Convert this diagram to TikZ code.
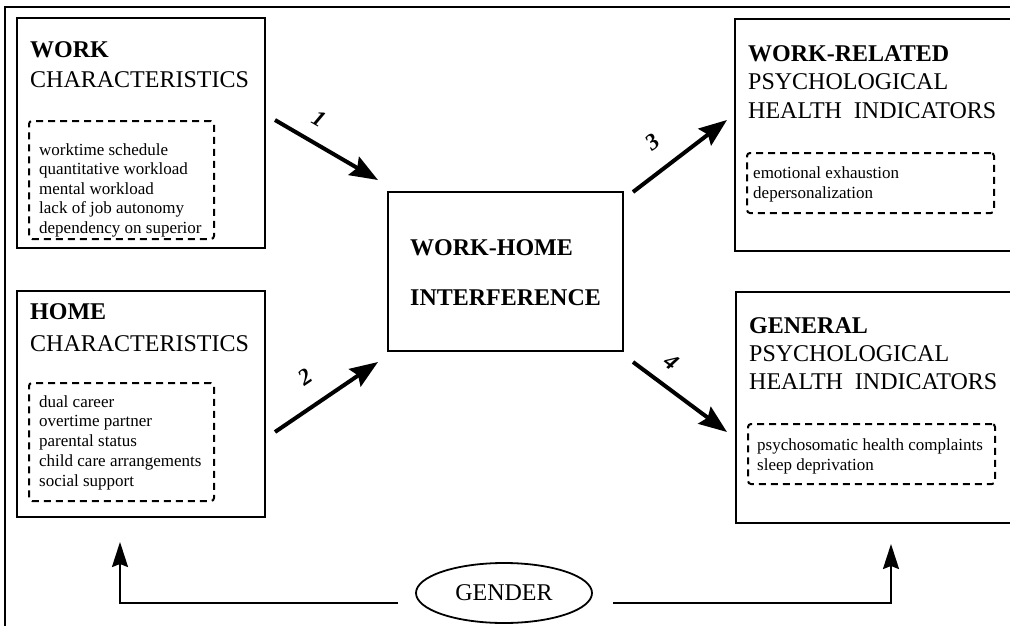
\documentclass[tikz,border=0pt]{standalone}
\usepackage{fontspec}
\setmainfont{Liberation Serif}
\usetikzlibrary{arrows.meta,shapes.geometric}
\tikzset{
 bigbox/.style={draw, line width=2.4pt, anchor=north west, inner sep=0pt, outer sep=0pt},
 dbox/.style={draw, dash pattern=on 7pt off 5pt, line width=2pt, rounded corners=3pt, anchor=north west, inner sep=0pt},
 head/.style={anchor=base west, inner sep=0pt, font=\fontsize{24}{28}\selectfont},
 headb/.style={anchor=base west, inner sep=0pt, font=\fontsize{24}{28}\selectfont\bfseries},
 item/.style={anchor=base west, inner sep=0pt, font=\fontsize{17}{19}\selectfont},
 flow/.style={line width=4pt, -{Stealth[length=28pt,width=21pt,inset=4pt]}},
 num/.style={font=\fontsize{23}{23}\selectfont\bfseries\itshape, inner sep=0pt},
 garrow/.style={line width=2.2pt, -{Stealth[length=25pt,width=16pt,inset=3pt]}},
}
\begin{document}
\begin{tikzpicture}[x=1pt,y=-1pt]
\useasboundingbox (0,0) rectangle (1010,626);
\clip (0,0) rectangle (1010,626);
\fill[white] (0,0) rectangle (1010,626);
% outer frame
\draw[line width=2.5pt] (5,626) -- (5,7) -- (1015,7);

% WORK characteristics
\node[bigbox, minimum width=248pt, minimum height=230pt] (work) at (17,18) {};
\node[headb] (workt) at (30,58) {WORK};
\node[head] (workc) at (30,88) {CHARACTERISTICS};
\node[dbox, minimum width=185pt, minimum height=118pt] (workd) at (28,120) {};
\foreach \t [count=\i] in {worktime schedule,quantitative workload,mental workload,lack of job autonomy,dependency on superior}
  \node[item] (wi\i) at (39,{155+19.5*(\i-1)}) {\t};

% HOME characteristics
\node[bigbox, minimum width=248pt, minimum height=226pt] (home) at (17,291) {};
\node[headb] (homet) at (30,319) {HOME};
\node[head] (homec) at (30,351) {CHARACTERISTICS};
\node[dbox, minimum width=185pt, minimum height=118pt] (homed) at (28,382) {};
\foreach \t [count=\i] in {dual career,overtime partner,parental status,child care arrangements,social support}
  \node[item] (hi\i) at (39,{407+19.75*(\i-1)}) {\t};

% Work-home interference
\node[bigbox, minimum width=235pt, minimum height=159pt] (whi) at (388,192) {};
\node[headb] (whi1) at (410,255) {WORK-HOME};
\node[headb] (whi2) at (410,305) {INTERFERENCE};

% Work-related indicators
\node[bigbox, minimum width=290pt, minimum height=232pt] (wr) at (735,19) {};
\node[headb] (wr1) at (748,62) {WORK-RELATED};
\node[head] (wr2) at (748,90) {PSYCHOLOGICAL};
\node[head] (wr3) at (748,118) {HEALTH\ \ INDICATORS};
\node[dbox, minimum width=247pt, minimum height=60pt] (wrd) at (746,152) {};
\node[item] (wri1) at (753,178) {emotional exhaustion};
\node[item] (wri2) at (753,198) {depersonalization};

% General indicators
\node[bigbox, minimum width=290pt, minimum height=231pt] (gen) at (736,292) {};
\node[headb] (gen1) at (749,333) {GENERAL};
\node[head] (gen2) at (749,361) {PSYCHOLOGICAL};
\node[head] (gen3) at (749,389) {HEALTH\ \ INDICATORS};
\node[dbox, minimum width=247pt, minimum height=60pt] (gend) at (747,423) {};
\node[item] (geni1) at (757,450) {psychosomatic health complaints};
\node[item] (geni2) at (757,470) {sleep deprivation};

% arrows 1-4
\coordinate (a1s) at (275,120); \coordinate (a1e) at (378,180);
\coordinate (a2s) at (275,432); \coordinate (a2e) at (378,362);
\coordinate (a3s) at (633,192); \coordinate (a3e) at (727,120);
\coordinate (a4s) at (633,362); \coordinate (a4e) at (727,432);
\draw[flow] (a1s) -- (a1e);
\draw[flow] (a2s) -- (a2e);
\draw[flow] (a3s) -- (a3e);
\draw[flow] (a4s) -- (a4e);
\node[num, rotate=-30] (n1) at (319,119) {1};
\node[num, rotate=34] (n2) at (305,377) {2};
\node[num, rotate=37] (n3) at (653,142) {3};
\node[num, rotate=-37] (n4) at (672,362) {4};

% gender
\node[draw, ellipse, line width=1.8pt, minimum width=176pt, minimum height=60pt, inner sep=0pt,
      font=\fontsize{24}{28}\selectfont] (gender) at (504,593) {GENDER};
\coordinate (gl) at (398,603);
\coordinate (gr) at (613,603);
\coordinate (gtl) at (120,542);
\coordinate (gtr) at (891,544);
\draw[garrow] (gl) -| (gtl);
\draw[garrow] (gr) -| (gtr);
\end{tikzpicture}
\end{document}
